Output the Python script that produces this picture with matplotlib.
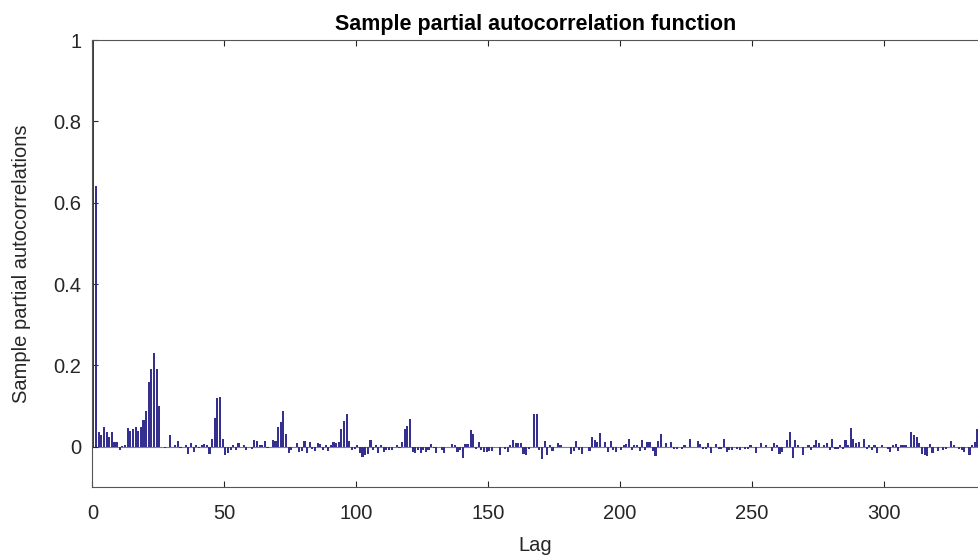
import matplotlib.pyplot as plt
import numpy as np

plt.rcParams['font.family'] = ['Liberation Sans', 'DejaVu Sans']

# partial autocorrelations, lags 0..336
pacf = [
    1.0, 0.64, 0.036, 0.028, 0.048, 0.036, 0.025, 0.035, 0.011, 0.011,
    -0.007, 0.001, 0.005, 0.047, 0.038, 0.043, 0.048, 0.038, 0.048, 0.065,
    0.087, 0.159, 0.191, 0.231, 0.191, 0.099, 0.0, -0.004, 0.0, 0.028,
    0.0, 0.003, 0.013, -0.003, 0.0, 0.005, -0.017, 0.008, -0.013, 0.003,
    -0.004, 0.003, 0.007, 0.005, -0.017, 0.018, 0.071, 0.12, 0.122, 0.018,
    -0.021, -0.015, -0.009, 0.003, -0.009, 0.01, 0.0, 0.003, -0.009, 0.0,
    -0.005, 0.016, 0.013, 0.004, 0.003, 0.013, -0.004, 0.0, 0.016, 0.013,
    0.049, 0.06, 0.088, 0.031, -0.016, -0.008, 0.0, 0.008, -0.013, -0.011,
    0.013, -0.016, 0.011, -0.005, -0.011, 0.009, 0.006, -0.009, 0.005, -0.011,
    0.003, 0.012, 0.009, 0.012, 0.043, 0.064, 0.08, 0.014, -0.009, -0.005,
    0.005, -0.016, -0.025, -0.02, -0.019, 0.016, -0.007, 0.003, -0.016, 0.005,
    -0.013, -0.008, -0.007, -0.007, 0.0, 0.005, -0.004, 0.011, 0.043, 0.051,
    0.069, -0.012, -0.016, -0.008, -0.016, -0.008, -0.013, -0.007, 0.007, -0.004,
    -0.016, 0.0, -0.007, -0.016, 0.0, 0.0, 0.007, 0.004, -0.013, -0.007,
    -0.027, 0.007, 0.007, 0.041, 0.031, -0.005, 0.011, -0.007, -0.013, -0.013,
    -0.011, -0.011, 0.0, 0.0, -0.02, 0.0, -0.005, -0.013, 0.003, 0.016,
    0.01, 0.01, 0.008, -0.018, -0.02, -0.006, 0.0, 0.08, 0.08, -0.008,
    -0.029, 0.014, -0.02, 0.003, -0.011, 0.0, 0.009, 0.005, 0.0, 0.0,
    0.0, -0.019, -0.011, 0.014, -0.007, -0.019, 0.0, 0.0, -0.011, 0.025,
    0.016, 0.012, 0.034, 0.0, 0.011, -0.012, 0.013, -0.007, -0.013, 0.0,
    -0.008, 0.003, 0.007, 0.02, -0.007, 0.003, 0.005, -0.011, 0.017, -0.007,
    0.011, 0.011, -0.011, -0.024, 0.013, 0.031, 0.0, 0.01, 0.0, 0.011,
    -0.005, -0.005, 0.0, -0.005, 0.003, 0.0, 0.018, 0.0, 0.0, 0.014,
    0.006, -0.006, -0.005, 0.008, -0.016, 0.0, 0.007, -0.006, -0.006, 0.02,
    -0.012, -0.008, -0.008, 0.0, -0.005, -0.008, 0.0, -0.006, -0.005, 0.005,
    0.0, -0.016, 0.0, 0.01, 0.0, 0.003, 0.0, -0.011, 0.01, 0.003,
    -0.019, -0.013, 0.0, 0.017, 0.036, -0.027, 0.016, 0.005, 0.0, -0.02,
    0.0, 0.003, -0.009, 0.005, 0.016, 0.008, 0.0, 0.005, 0.008, -0.009,
    0.02, -0.006, -0.006, 0.005, -0.006, 0.016, 0.003, 0.046, 0.018, 0.008,
    0.011, 0.0, 0.02, -0.005, 0.005, -0.009, 0.005, -0.016, 0.0, 0.003,
    0.0, -0.005, -0.013, 0.005, 0.007, -0.011, 0.003, 0.003, 0.003, 0.0,
    0.035, 0.03, 0.025, 0.01, -0.019, -0.021, -0.024, 0.007, -0.016, 0.0,
    -0.011, 0.0, -0.008, -0.005, 0.0, 0.014, 0.003, 0.0, -0.005, -0.009,
    -0.013, 0.0, -0.02, 0.003, 0.012, 0.043, 0.01,
]
lags = np.arange(len(pacf))

x_ticks = [0, 50, 100, 150, 200, 250, 300]
y_ticks = [0, 0.2, 0.4, 0.6, 0.8, 1]
y_tick_labels = ['0', '0.2', '0.4', '0.6', '0.8', '1']

bar_color = '#35308f'
axis_gray = '#262626'

fig = plt.figure(figsize=(9.79, 5.57), dpi=100, facecolor='white')
ax = fig.add_axes([0.0943, 0.125, 0.9057, 0.803])

# bars sit just right of their lag, as in the reference rendering
ax.bar(lags, pacf, width=0.8, align='edge', color=bar_color,
       edgecolor='none', zorder=2)
ax.axhline(0, color='#808080', lw=0.8, zorder=1)

ax.set_xlim(0, 336)
ax.set_ylim(-0.1, 1)
ax.set_xticks(x_ticks)
ax.set_yticks(y_ticks)
ax.set_yticklabels(y_tick_labels)

ax.tick_params(direction='in', length=4, width=0.8, top=True, right=False,
               colors=axis_gray, labelsize=14.5, labelcolor=axis_gray)
ax.tick_params(axis='x', pad=12)
ax.tick_params(axis='y', pad=8)
for side in ['left', 'bottom', 'top']:
    ax.spines[side].set_color('#555555')
    ax.spines[side].set_linewidth(0.8)
ax.spines['right'].set_visible(False)

ax.set_title('Sample partial autocorrelation function', fontsize=15.5,
             fontweight='bold', color='black', pad=7)
ax.set_xlabel('Lag', fontsize=14.5, color=axis_gray, labelpad=9)
ax.set_ylabel('Sample partial autocorrelations', fontsize=14.5,
              color=axis_gray, labelpad=16)

plt.savefig('out.png', dpi=100)
